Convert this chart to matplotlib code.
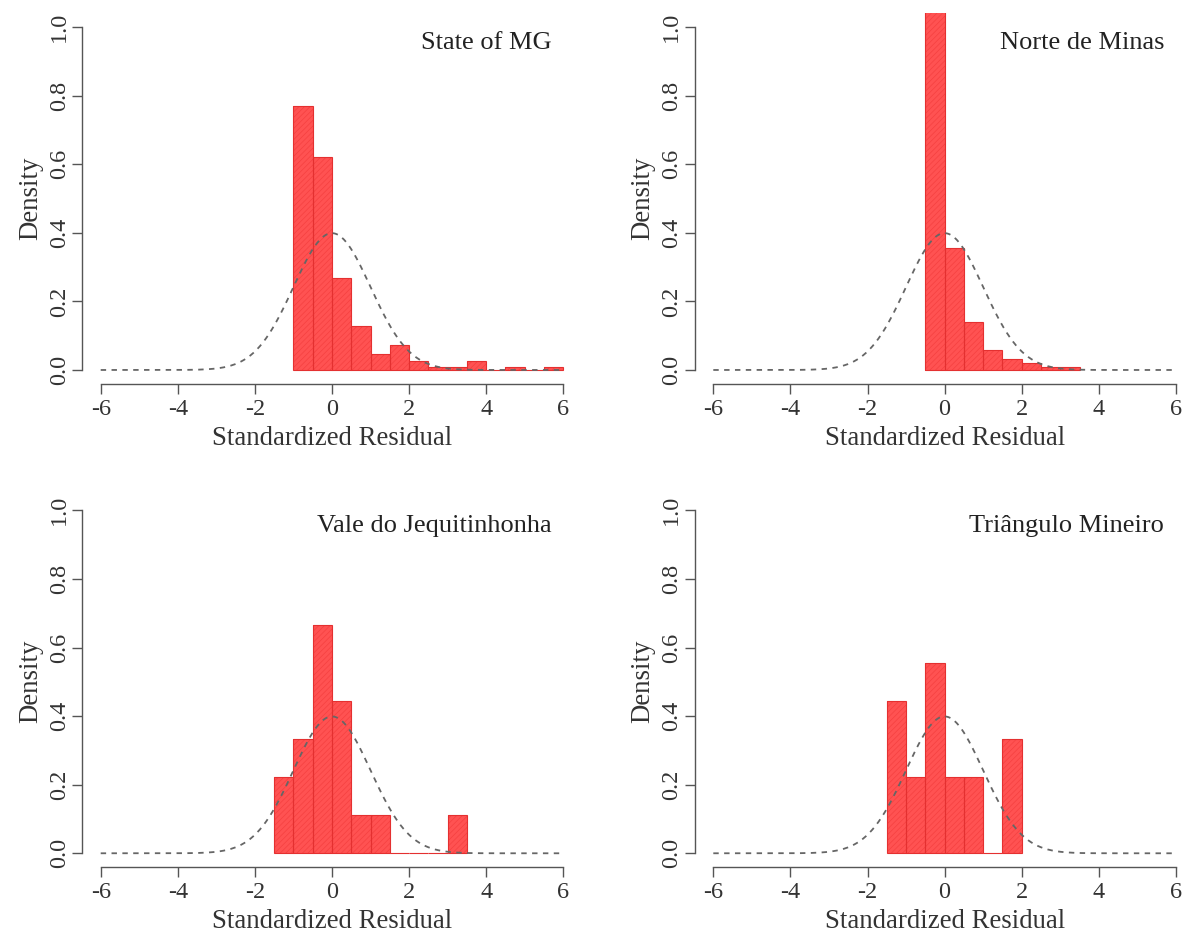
import numpy as np
import matplotlib
matplotlib.use("Agg")
import matplotlib.pyplot as plt

# ---------------- data (densities per 0.5-wide bin) ----------------
bin_width = 0.5

mg_start = -1.0
mg_density = [0.77, 0.62, 0.268, 0.128, 0.047, 0.073, 0.026, 0.009, 0.009,
              0.026, 0.0, 0.009, 0.0, 0.009]

norte_start = -0.5
norte_density = [1.38, 0.355, 0.141, 0.058, 0.031, 0.020, 0.010, 0.010]

vale_start = -1.5
vale_density = [0.222, 0.333, 0.667, 0.444, 0.111, 0.111, 0.0, 0.0, 0.0, 0.111]

tri_start = -1.5
tri_density = [0.444, 0.222, 0.556, 0.222, 0.222, 0.0, 0.333]

titles = ["State of MG", "Norte de Minas", "Vale do Jequitinhonha", "Triângulo Mineiro"]
x_ticks = [-6, -4, -2, 0, 2, 4, 6]
y_ticks = [0.0, 0.2, 0.4, 0.6, 0.8, 1.0]
y_ticklabels = ["0.0", "0.2", "0.4", "0.6", "0.8", "1.0"]
xlabel = "Standardized Residual"
ylabel = "Density"

# reference normal curve parameters
norm_mu, norm_sigma = 0.0, 1.0

panels = [(mg_start, mg_density), (norte_start, norte_density),
          (vale_start, vale_density), (tri_start, tri_density)]

# ---------------- style ----------------
plt.rcParams['font.family'] = ['Liberation Serif', 'DejaVu Serif']
plt.rcParams['hatch.linewidth'] = 0.5
fill_col = '#ff5252'
hatch_col = '#f54040'
edge_col = '#e43030'
axis_col = '#555555'

fig = plt.figure(figsize=(11.85, 9.32), dpi=100)
W, H = 1185.0, 932.0
ax_w = 499.6 / W
ax_h = 370.4 / H
positions = [
    (82.2 / W, 1 - 383.7 / H),
    (694.8 / W, 1 - 383.7 / H),
    (82.2 / W, 1 - 867.0 / H),
    (694.8 / W, 1 - 867.0 / H),
]

xs = np.linspace(-6, 6, 600)
pdf = np.exp(-0.5 * ((xs - norm_mu) / norm_sigma) ** 2) / (norm_sigma * np.sqrt(2 * np.pi))

for (left, bottom), (start, dens), title in zip(positions, panels, titles):
    ax = fig.add_axes([left, bottom, ax_w, ax_h])
    lefts = start + bin_width * np.arange(len(dens))
    # filled + hatched bars
    ax.bar(lefts, dens, width=bin_width, align='edge', facecolor=fill_col,
           edgecolor=hatch_col, hatch='//////', linewidth=0, zorder=2)
    # bar borders
    ax.bar(lefts, dens, width=bin_width, align='edge', fill=False,
           edgecolor=edge_col, linewidth=0.8, zorder=3)
    # normal curve
    ax.plot(xs, pdf, linestyle=(0, (3, 3)), color='#666666', linewidth=1.3, zorder=4)

    ax.set_xlim(-6.48, 6.48)
    ax.set_ylim(-0.04, 1.04)
    for s in ['top', 'right']:
        ax.spines[s].set_visible(False)
    ax.spines['left'].set_bounds(0, 1)
    ax.spines['bottom'].set_bounds(-6, 6)
    for s in ['left', 'bottom']:
        ax.spines[s].set_color(axis_col)
        ax.spines[s].set_linewidth(1.0)
    ax.set_xticks(x_ticks)
    ax.set_xticklabels([str(t) for t in x_ticks])
    ax.set_yticks(y_ticks)
    ax.set_yticklabels(y_ticklabels, rotation=90, va='center')
    ax.tick_params(axis='both', direction='out', length=7, width=1.0,
                   color=axis_col, labelsize=17.5, labelcolor='#333333')
    ax.tick_params(axis='x', pad=4)
    ax.tick_params(axis='y', pad=2)
    ax.set_xlabel(xlabel, fontsize=19.3, color='#333333', labelpad=4)
    ax.set_ylabel(ylabel, fontsize=19.3, color='#333333', labelpad=4)
    ax.text(5.7, 0.953, title, ha='right', va='center', fontsize=19, color='#222222')
    ax.patch.set_visible(False)

fig.savefig("out.png", dpi=100)
